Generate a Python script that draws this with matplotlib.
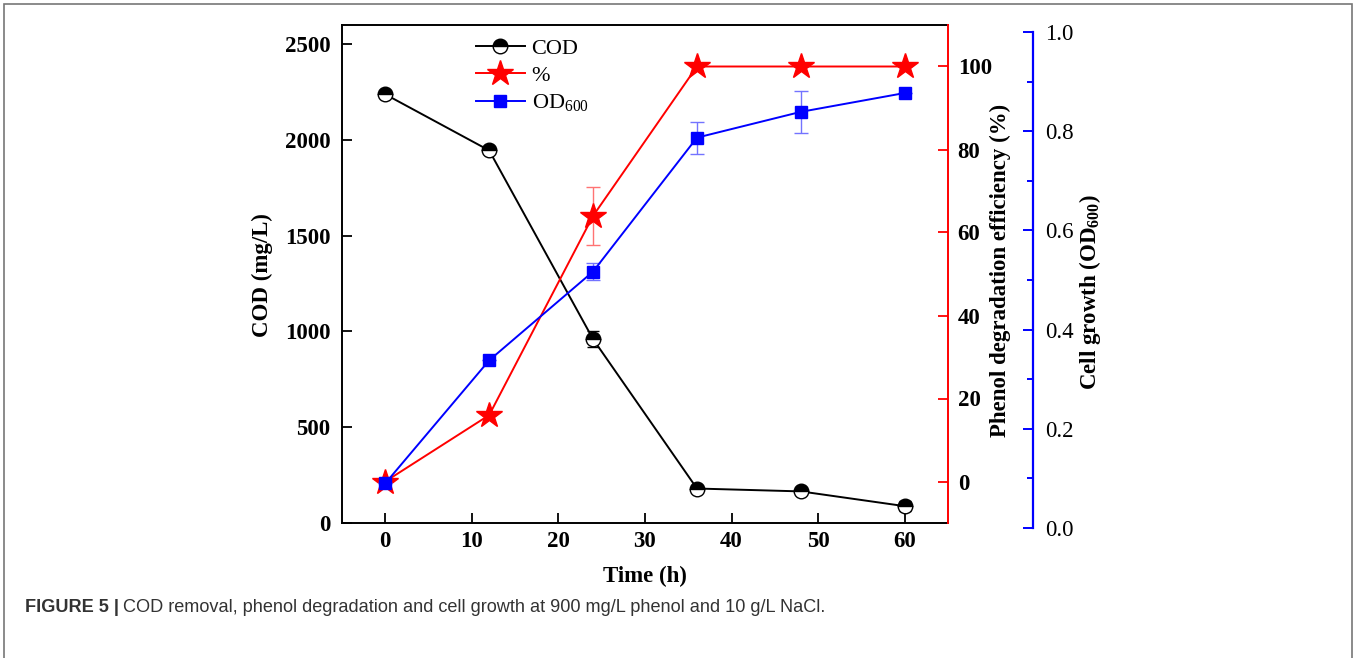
import numpy as np
import matplotlib
matplotlib.use("Agg")
import matplotlib.pyplot as plt
from matplotlib.patches import Rectangle
from matplotlib.lines import Line2D
from matplotlib.ticker import MultipleLocator

plt.rcParams['font.family'] = ['Liberation Serif', 'DejaVu Serif']
plt.rcParams['mathtext.fontset'] = 'custom'
plt.rcParams['mathtext.rm'] = 'Liberation Serif'
plt.rcParams['mathtext.bf'] = 'Liberation Serif:bold'

# data
time = [0, 12, 24, 36, 48, 60]
cod = [2238, 1945, 960, 180, 165, 88]
cod_err = [0, 0, 40, 15, 0, 25]
phenol = [0, 16, 64, 100, 100, 100]
phenol_err = [0, 0, 7, 0, 0, 0]
od600 = [0.090, 0.338, 0.517, 0.787, 0.839, 0.877]
od_err = [0, 0, 0.018, 0.032, 0.042, 0]

W, H = 1357, 658
fig = plt.figure(figsize=(W / 100, H / 100), dpi=100)

L, R, T, B = 342, 948, 25, 523
ax = fig.add_axes([L / W, 1 - B / H, (R - L) / W, (B - T) / H])
ax2 = ax.twinx()
# blue axis sits a few pixels lower than the main frame
T3, B3 = 32, 528
ax3 = fig.add_axes([L / W, 1 - B3 / H, (R - L) / W, (B3 - T3) / H])
ax3.patch.set_visible(False)

lw = 1.4
cod_style = dict(color='black', lw=lw, marker='o', ms=10.5, mfc='black',
                 mfcalt='white', fillstyle='top', mec='black', mew=1)
ph_style = dict(color='red', lw=lw, marker='*', ms=19, mec='red')
od_style = dict(color='blue', lw=lw, marker='s', ms=8, mec='blue')

ax.errorbar(time, cod, yerr=cod_err, ecolor='black', elinewidth=1, capsize=4,
            zorder=3, **cod_style)
ax2.errorbar(time, phenol, yerr=phenol_err, ecolor=(1, 0.45, 0.45), elinewidth=1,
             capsize=5, zorder=3, **ph_style)
ax3.errorbar(time, od600, yerr=od_err, ecolor=(0.45, 0.45, 1), elinewidth=1,
             capsize=5, zorder=4, **od_style)

ax.set_xlim(-5, 65)
ax.set_ylim(0, 2600)
ax2.set_ylim(-10, 110)
ax3.set_xlim(-5, 65)
ax3.set_ylim(0, 1.0)

ax.xaxis.set_major_locator(MultipleLocator(10))
ax.yaxis.set_major_locator(MultipleLocator(500))
ax2.yaxis.set_major_locator(MultipleLocator(20))
ax3.yaxis.set_major_locator(MultipleLocator(0.2))
ax3.yaxis.set_minor_locator(MultipleLocator(0.1))

fs = 16.5
for s in ['left', 'bottom', 'top']:
    ax.spines[s].set_linewidth(1.4)
ax.spines['right'].set_visible(False)
for s in ['left', 'bottom', 'top']:
    ax2.spines[s].set_visible(False)
ax2.spines['right'].set_color('red')
ax2.spines['right'].set_linewidth(1.4)

ax.tick_params(axis='both', direction='in', length=7, width=1.3, labelsize=fs)
ax.tick_params(axis='y', pad=8.5)
ax.tick_params(axis='x', pad=6)
ax2.tick_params(axis='y', direction='in', length=7, width=1.3, color='red',
                labelsize=fs, pad=7)
for lab in ax.get_xticklabels() + ax.get_yticklabels() + ax2.get_yticklabels():
    lab.set_fontweight('bold')

for s in ['left', 'bottom', 'top']:
    ax3.spines[s].set_visible(False)
ax3.spines['right'].set_position(('axes', (1033 - L) / (R - L)))
ax3.spines['right'].set_color('blue')
ax3.spines['right'].set_linewidth(1.6)
ax3.xaxis.set_visible(False)
ax3.yaxis.tick_right()
ax3.tick_params(axis='y', which='major', direction='in', length=7, width=1.4,
                color='blue', labelsize=fs, pad=9)
ax3.tick_params(axis='y', which='minor', direction='in', length=4, width=1.4,
                color='blue')

fig.text(262 / W, 1 - 275 / H, 'COD (mg/L)', rotation=90, ha='center', va='center',
         fontsize=fs, fontweight='bold')
fig.text(1000 / W, 1 - 270 / H, 'Phenol degradation efficiency (%)', rotation=90,
         ha='center', va='center', fontsize=fs, fontweight='bold')
fig.text(1090 / W, 1 - 292 / H, r'Cell growth (OD$_{\mathbf{600}}$)', rotation=90,
         ha='center', va='center', fontsize=fs, fontweight='bold')
fig.text(645 / W, 1 - 576 / H, 'Time (h)', ha='center', va='center',
         fontsize=fs, fontweight='bold')

hs = [Line2D([], [], **cod_style), Line2D([], [], **ph_style),
      Line2D([], [], **od_style)]
ls = ['COD', '%', r'OD$_{600}$']
ax.legend(hs, ls, loc='upper left', bbox_to_anchor=(476 / W, 1 - 38 / H),
          bbox_transform=fig.transFigure, frameon=False, fontsize=16,
          borderpad=0, borderaxespad=0, handlelength=2.2, handletextpad=0.3,
          labelspacing=0.3)

fig.patches.append(Rectangle((4 / W, -0.05), (1352 - 4) / W, 1.05 - 4 / H,
                             transform=fig.transFigure, fill=False,
                             edgecolor='#777777', lw=1.2))

cap_y = 1 - 608 / H
cap_fs = 13.1
t1 = fig.text(25 / W, cap_y, 'FIGURE 5 |', fontsize=cap_fs, fontweight='bold',
              family='Liberation Sans', color='#333333', va='center')
fig.canvas.draw()
bb = t1.get_window_extent()
fig.text((bb.x1 + 4) / W, cap_y,
         'COD removal, phenol degradation and cell growth at 900 mg/L phenol and 10 g/L NaCl.',
         fontsize=cap_fs, family='Liberation Sans', color='#333333', va='center')

fig.savefig('out.png', dpi=100)
